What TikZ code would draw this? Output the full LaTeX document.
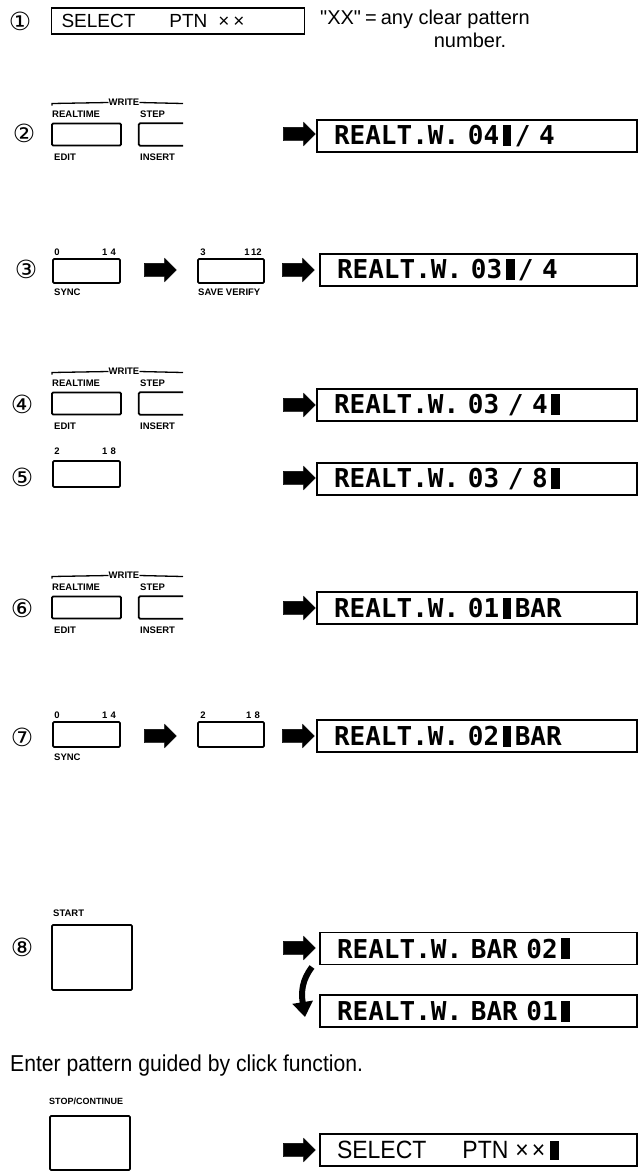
\documentclass[tikz,border=0pt]{standalone}
\usepackage{fontspec}
\setmainfont{Liberation Sans}
\newfontfamily\lcdfont{DejaVu Sans Mono}
\newfontfamily\symfont{DejaVu Sans}
\newfontfamily\notefont{Liberation Sans}
\newfontfamily\condfont[FakeStretch=0.92]{Liberation Sans}
\usetikzlibrary{shapes.arrows,arrows.meta}

\newcommand\cur{\makebox[15.6pt][c]{\rule[-1pt]{9pt}{21pt}}}
\newcommand\curs{\hspace{5pt}\rule[-1pt]{9pt}{19pt}}

\tikzset{
 btn/.style={draw, line width=1.8pt, rounded corners=1.2pt, inner sep=0pt},
 btnline/.style={line width=1.8pt, rounded corners=1.2pt},
 lbl/.style={font=\fontsize{9.5}{10}\selectfont\bfseries, inner sep=0pt},
 num/.style={font=\symfont\fontsize{25}{25}\selectfont, inner sep=0pt},
 lcd/.style={draw, line width=1.8pt, minimum height=32pt, inner xsep=17pt, inner ysep=0pt, text width=#1, align=left, font=\lcdfont\bfseries\fontsize{26}{26}\selectfont},
 selfont/.style={font=\condfont\fontsize{25}{25}\selectfont},
 blk/.style={single arrow, fill=black, draw=black, inner sep=6.5pt, minimum height=32pt, single arrow head extend=5pt, single arrow head indent=0pt, anchor=center},
 note/.style={font=\notefont\fontsize{20}{20}\selectfont, inner sep=0pt},
}

% WRITE group: #1 = prefix, #2 = y of button centre
\newcommand\writegroup[2]{%
 \begin{scope}[shift={(0,#2)}]
  \node[lbl] (#1w) at (124,-32) {WRITE};
  \coordinate (#1wl) at (52,-31);
  \coordinate (#1wr) at (183,-31);
  \coordinate (#1wt) at (52,-29);
  \draw[line width=1.3pt] (#1wt) -- (#1wl) -- (#1w.west);
  \draw[line width=1.3pt] (#1w.east) -- (#1wr);
  \node[lbl, anchor=west] (#1rt) at (52,-20.5) {REALTIME};
  \node[lbl, anchor=west] (#1st) at (140,-20.5) {STEP};
  \node[btn, minimum width=69pt, minimum height=22pt] (#1ba) at (86.5,0) {};
  \node[inner sep=0pt, minimum width=44pt, minimum height=22pt] (#1bb) at (161,0) {};
  \draw[btnline] (#1bb.north east) -- (#1bb.north west) -- (#1bb.south west) -- (#1bb.south east);
  \node[lbl, anchor=west] (#1ed) at (54,23) {EDIT};
  \node[lbl, anchor=west] (#1in) at (140,23) {INSERT};
 \end{scope}}

\begin{document}
\begin{tikzpicture}[x=1pt,y=-1pt]
\fill[white] (0,0) rectangle (639,1171);
\useasboundingbox (0,0) rectangle (639,1171);

% ---- 1
\node[num] (n1) at (20,21) {①};
\node[draw, line width=1.8pt, minimum width=253pt, minimum height=26pt, inner xsep=10pt, inner ysep=0pt, text width=233pt, align=left, font=\fontsize{19}{19}\selectfont] (l1) at (178,21) {SELECT\hspace{34pt}PTN\hspace{11pt}×\hspace{4pt}×};
\node[note, anchor=west] (t1) at (320,19) {"XX"\hspace{4pt}=\hspace{4pt}any clear pattern};
\node[note] (t1b) at (470,40) {number.};

% ---- 2
\node[num] (n2) at (24,133) {②};
\writegroup{r2}{134.5}
\node[blk] (a2) at (296,134) {};
\node[lcd=286pt] (l2) at (477,136) {REALT.W. 04\cur/ 4};

% ---- 3
\node[num] (n3) at (26,269) {③};
\node[btn, minimum width=67pt, minimum height=24pt] (b3a) at (86.5,271) {};
\node[lbl] (b3l) at (57,252) {0};
\node[lbl] (b3r) at (109,252) {1\,\,4};
\node[lbl, anchor=west] (b3s) at (54,292) {SYNC};
\node[blk] (a3a) at (157,270) {};
\node[btn, minimum width=66pt, minimum height=24pt] (b3b) at (231,271) {};
\node[lbl] (b3bl) at (203,252) {3};
\node[lbl] (b3br) at (253,252) {1\,12};
\node[lbl, anchor=west] (b3bs) at (198,292) {SAVE VERIFY};
\node[blk] (a3b) at (295,270) {};
\node[lcd=283pt] (l3) at (478.5,270) {REALT.W. 03\cur/ 4};

% ---- 4
\node[num] (n4) at (22,404) {④};
\writegroup{r4}{403.5}
\node[blk] (a4) at (296,405) {};
\node[lcd=286pt] (l4) at (477,405) {REALT.W. 03 / 4\cur};

% ---- 5
\node[num] (n5) at (22,477) {⑤};
\node[btn, minimum width=67pt, minimum height=26pt] (b5) at (86.5,474) {};
\node[lbl] (b5l) at (57,451) {2};
\node[lbl] (b5r) at (109,451) {1\,\,8};
\node[blk] (a5) at (296,478) {};
\node[lcd=286pt] (l5) at (477,479) {REALT.W. 03 / 8\cur};

% ---- 6
\node[num] (n6) at (22,608) {⑥};
\writegroup{r6}{607.5}
\node[blk] (a6) at (296,608) {};
\node[lcd=286pt] (l6) at (477,608) {REALT.W. 01\cur BAR};

% ---- 7
\node[num] (n7) at (22,737) {⑦};
\node[btn, minimum width=67pt, minimum height=25pt] (b7a) at (86.5,734.5) {};
\node[lbl] (b7l) at (57,715) {0};
\node[lbl] (b7r) at (109,715) {1\,\,4};
\node[lbl, anchor=west] (b7s) at (54,757) {SYNC};
\node[blk] (a7a) at (157,736) {};
\node[btn, minimum width=66pt, minimum height=25pt] (b7b) at (231,734.5) {};
\node[lbl] (b7bl) at (203,715) {2};
\node[lbl] (b7br) at (253,715) {1\,\,8};
\node[blk] (a7b) at (295,736) {};
\node[lcd=286pt] (l7) at (477,736) {REALT.W. 02\cur BAR};

% ---- 8
\node[num] (n8) at (22,947) {⑧};
\node[lbl, anchor=west] (b8t) at (53,913) {START};
\node[btn, minimum width=80pt, minimum height=65pt] (b8) at (92,957.5) {};
\node[blk] (a8) at (296,948) {};
\node[lcd=283pt] (l8a) at (478.5,948.5) {REALT.W. BAR 02\cur};
\node[lcd=283pt] (l8b) at (478.5,1011) {REALT.W. BAR 01\cur};
\coordinate (c8s) at (312,967);
\coordinate (c8e) at (305,1017);
\draw[line width=6pt, -{Triangle[width=20pt,length=15pt]}] (c8s) .. controls (302,980) and (301,992) .. (c8e);

% ---- enter
\node[note, anchor=west, font=\condfont\fontsize{23}{23}\selectfont] (enter) at (10,1066) {Enter pattern guided by click function.};

% ---- stop / continue
\node[lbl, anchor=west, font=\fontsize{9}{10}\selectfont\bfseries] (b9t) at (49,1101) {STOP/CONTINUE};
\node[btn, minimum width=80pt, minimum height=54pt] (b9) at (90,1143) {};
\node[blk] (a9) at (296,1150) {};
\node[lcd=283pt, selfont] (l9) at (478.5,1150) {SELECT\hspace{36pt}PTN\hspace{7pt}×\hspace{3pt}×\curs};
\end{tikzpicture}
\end{document}
